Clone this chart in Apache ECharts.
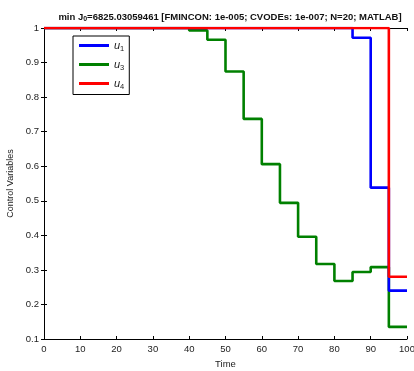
<!DOCTYPE html>
<html>
<head>
<meta charset="utf-8">
<script src="https://cdn.jsdelivr.net/npm/echarts@6/dist/echarts.min.js"></script>
<style>
  html, body { margin: 0; padding: 0; background: #fff; }
  #chart { width: 414px; height: 371px; }
</style>
</head>
<body>
<div id="chart"></div>
<script>
// control profile, N=20 intervals
var time = [0, 5, 10, 15, 20, 25, 30, 35, 40, 45, 50, 55, 60, 65, 70, 75, 80, 85, 90, 95, 100]
var u1 = [1, 1, 1, 1, 1, 1, 1, 1, 1, 1, 1, 1, 1, 1, 1, 1, 1, 0.972, 0.538, 0.24, 0.24]
var u3 = [1, 1, 1, 1, 1, 1, 1, 1, 0.993, 0.966, 0.874, 0.737, 0.606, 0.494, 0.396, 0.317, 0.268, 0.294, 0.308, 0.135, 0.135]
var u4 = [1, 1, 1, 1, 1, 1, 1, 1, 1, 1, 1, 1, 1, 1, 1, 1, 1, 1, 1, 0.28, 0.28]

var names = { u1: '1', u3: '3', u4: '4' }

function pairs(vals) {
  var out = []
  for (var i = 0; i < time.length; i++) out.push([time[i], vals[i]])
  return out
}

var myChart = echarts.init(document.getElementById('chart'))

var axisFont = { color: '#222', fontSize: 9.5, fontFamily: 'Liberation Sans' }

function stepSeries(name, vals, color) {
  return {
    name: name,
    type: 'line',
    step: 'end',
    data: pairs(vals),
    showSymbol: false,
    symbol: 'none',
    lineStyle: { color: color, width: 2.6 },
    itemStyle: { color: color },
    animation: false
  }
}

myChart.setOption({
  backgroundColor: '#fff',
  title: {
    text: '{b|min J}{s|0}{b|=6825.03059461 [FMINCON: 1e-005; CVODEs: 1e-007; N=20; MATLAB]}',
    left: 225,
    textAlign: 'center',
    top: 6,
    textStyle: {
      rich: {
        b: { fontSize: 9.5, fontWeight: 'bold', color: '#111', fontFamily: 'Liberation Sans' },
        s: { fontSize: 7, fontWeight: 'bold', color: '#111', fontFamily: 'Liberation Sans', verticalAlign: 'bottom', padding: [5, 0, 0, 0] }
      }
    }
  },
  legend: {
    left: 73,
    top: 36,
    orient: 'vertical',
    icon: 'rect',
    itemWidth: 30,
    itemHeight: 3,
    itemGap: 6.5,
    padding: [4, 5, 4, 6],
    borderColor: '#000',
    borderWidth: 1,
    backgroundColor: '#fff',
    data: ['u1', 'u3', 'u4'],
    formatter: function(n) { return '{u|u}{s|' + names[n] + '}' },
    textStyle: {
      rich: {
        u: { fontSize: 11, fontStyle: 'italic', color: '#222', fontFamily: 'Liberation Sans' },
        s: { fontSize: 7.5, color: '#222', fontFamily: 'Liberation Sans', verticalAlign: 'bottom', padding: [6, 0, 0, 0] }
      }
    }
  },
  grid: {
    left: 44,
    right: 7,
    top: 28,
    bottom: 32,
    outerBoundsMode: 'none'
  },
  xAxis: [{
    type: 'value',
    min: 0,
    max: 100,
    interval: 10,
    name: 'Time',
    nameLocation: 'middle',
    nameGap: 19,
    nameTextStyle: axisFont,
    axisLine: { lineStyle: { color: '#000', width: 1 } },
    axisTick: { inside: true, length: 3, lineStyle: { color: '#000' } },
    axisLabel: Object.assign({ margin: 5 }, axisFont),
    splitLine: { show: false }
  }, {
    type: 'value',
    position: 'top',
    min: 0,
    max: 100,
    interval: 10,
    axisLine: { lineStyle: { color: '#000', width: 1 } },
    axisTick: { inside: true, length: 3, lineStyle: { color: '#000' } },
    axisLabel: { show: false },
    splitLine: { show: false }
  }],
  yAxis: [{
    type: 'value',
    min: 0.1,
    max: 1,
    interval: 0.1,
    name: 'Control Variables',
    nameLocation: 'middle',
    nameGap: 18,
    nameTextStyle: { color: '#222', fontSize: 9, fontFamily: 'Liberation Sans' },
    axisLine: { show: true, lineStyle: { color: '#000', width: 1 } },
    axisTick: { show: true, inside: true, length: 3, lineStyle: { color: '#000' } },
    axisLabel: Object.assign({ margin: 5, formatter: function(v) { return String(Math.round(v * 10) / 10) } }, axisFont),
    splitLine: { show: false }
  }, {
    type: 'value',
    position: 'right',
    min: 0.1,
    max: 1,
    interval: 0.1,
    axisLine: { show: true, lineStyle: { color: '#000', width: 1 } },
    axisTick: { show: true, inside: true, length: 3, lineStyle: { color: '#000' } },
    axisLabel: { show: false },
    splitLine: { show: false }
  }],
  series: [
    stepSeries('u3', u3, '#008000'),
    stepSeries('u1', u1, '#0000ff'),
    stepSeries('u4', u4, '#ff0000')
  ]
})
</script>
</body>
</html>
